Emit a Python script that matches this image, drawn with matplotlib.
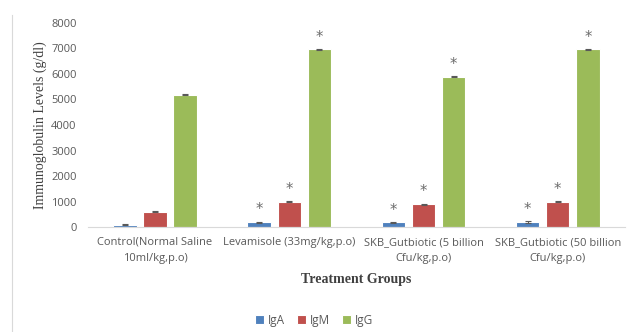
import matplotlib
matplotlib.use("Agg")
import matplotlib.pyplot as plt
import numpy as np

categories = ["Control(Normal Saline\n10ml/kg,p.o)", "Levamisole (33mg/kg,p.o)",
              "SKB_Gutbiotic (5 billion\nCfu/kg,p.o)", "SKB_Gutbiotic (50 billion\nCfu/kg,p.o)"]
series = ["IgA", "IgM", "IgG"]
iga = [90, 190, 180, 200]
igm = [600, 1000, 900, 1000]
igg = [5180, 6960, 5890, 6960]
iga_err = [15, 15, 15, 25]
igm_err = [25, 20, 15, 15]
igg_err = [20, 20, 20, 20]
sig_iga = [False, True, True, True]
sig_igm = [False, True, True, True]
sig_igg = [False, True, True, True]
yticks = [0, 1000, 2000, 3000, 4000, 5000, 6000, 7000, 8000]

colors = ["#4F81BD", "#C0504D", "#9BBB59"]

fig = plt.figure(figsize=(6.28, 3.32), dpi=100)
ax = fig.add_axes([0.140, 0.316, 0.855, 0.615])

x = np.arange(len(categories))
w = 0.175
step = 0.225
data = [iga, igm, igg]
errs = [iga_err, igm_err, igg_err]
sigs = [sig_iga, sig_igm, sig_igg]
for i, (vals, e, s) in enumerate(zip(data, errs, sigs)):
    pos = x + (i - 1) * step
    ax.bar(pos, vals, width=w, color=colors[i], edgecolor="white", linewidth=0.8,
           label=series[i], yerr=e, error_kw=dict(ecolor="#595959", capsize=2.5, elinewidth=0.8, capthick=0.8))
    for p, v, sg in zip(pos, vals, s):
        if sg:
            ax.text(p, v + 480, "*", ha="center", va="center", fontsize=10.5, color="#6b6b6b",
                    family="DejaVu Sans")

ax.set_xlim(-0.5, len(categories) - 0.5)
ax.set_ylim(0, 8000)
ax.set_yticks(yticks)
ax.set_yticklabels([str(t) for t in yticks])
ax.set_xticks(x)
ax.set_xticklabels(categories, fontsize=8, color="#595959", family="Open Sans", linespacing=1.6)
ax.tick_params(axis="y", labelsize=8, labelcolor="#595959", length=0, pad=8)
ax.tick_params(axis="x", length=0, pad=7)
for lab in ax.get_yticklabels():
    lab.set_family("Open Sans")
for sp in ["top", "right", "left"]:
    ax.spines[sp].set_visible(False)
ax.spines["bottom"].set_color("#D9D9D9")

ax.set_xlabel("Treatment Groups", fontsize=10, fontweight="bold", family="Liberation Serif",
              color="#404040", labelpad=7)
ax.set_ylabel("Immunoglobulin Levels (g/dl)", fontsize=10, family="Liberation Serif",
              color="#404040", labelpad=3)

leg = fig.legend(loc="center", bbox_to_anchor=(0.5, 0.035), ncol=3, frameon=False,
                 fontsize=8.5, handlelength=0.8, handleheight=0.8, handletextpad=0.3,
                 columnspacing=1.0)
for t in leg.get_texts():
    t.set_color("#595959")
    t.set_family("Open Sans")

fig.add_artist(plt.Line2D([0.019, 0.019], [0.0, 0.955], color="#D9D9D9", linewidth=0.8,
                          transform=fig.transFigure))

fig.savefig("out.png", dpi=100)
